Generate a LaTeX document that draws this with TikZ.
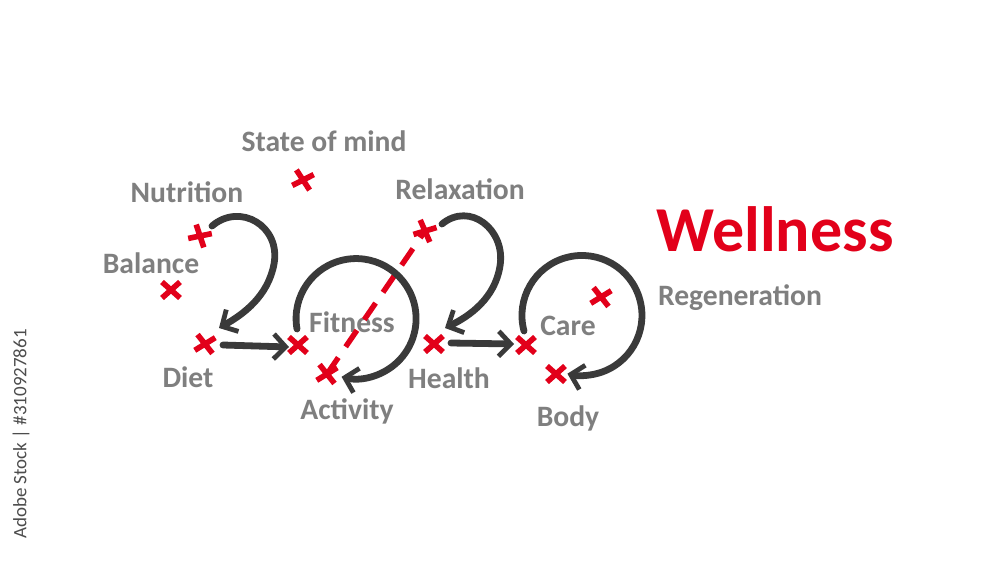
\documentclass[tikz,border=0pt]{standalone}
\usepackage{fontspec}
\setmainfont{Carlito}
\usetikzlibrary{arrows.meta}
\definecolor{lblgray}{HTML}{7F7F7F}
\definecolor{xred}{HTML}{E2001A}
\definecolor{arcgray}{HTML}{3A3A3A}
\definecolor{wmgray}{HTML}{4D4D4D}
\begin{document}
\begin{tikzpicture}[x=0.5pt,y=-0.5pt,
  lbl/.style={text=lblgray,font=\bfseries\fontsize{14.8}{16}\selectfont,inner sep=0pt},
  arcline/.style={draw=arcgray,line width=3.4pt,line cap=round,
    -{Straight Barb[length=6pt,width=12.5pt,line width=2.4pt]}},
  reddash/.style={draw=xred,line width=2.7pt,dash pattern=on 10pt off 6.5pt},
  xmark/.pic={\draw[xred,line width=2.8pt] (-9,-8)--(9,8) (-9,8)--(9,-8);}
]
\useasboundingbox[fill=white] (0,0) rectangle (1000,562);

% watermark text
\node[rotate=90,text=wmgray,font=\fontsize{9.5}{11}\selectfont,inner sep=0pt] (wm) at (21,434) {Adobe Stock | \#310927861};

% labels
\node[lbl] (tState) at (324,141) {State of mind};
\node[lbl] (tNutr) at (187,192) {Nutrition};
\node[lbl] (tBal) at (151,263) {Balance};
\node[lbl] (tDiet) at (188,377) {Diet};
\node[lbl] (tFit) at (352,322) {Fitness};
\node[lbl] (tAct) at (347,411) {Activity};
\node[lbl] (tRel) at (460,189) {Relaxation};
\node[lbl] (tHealth) at (449,378) {Health};
\node[lbl] (tCare) at (568,326) {Care};
\node[lbl] (tBody) at (568,418) {Body};
\node[lbl] (tRegen) at (740,298) {Regeneration};
\node[text=xred,font=\bfseries\fontsize{32}{36}\selectfont,inner sep=0pt] (tWell) at (775,229) {Wellness};

% cross positions
\coordinate (cState) at (303,180);
\coordinate (cNutr) at (200,236);
\coordinate (cBal) at (171,290);
\coordinate (cDiet) at (205,344);
\coordinate (cFit) at (298,345);
\coordinate (cAct) at (327,374);
\coordinate (cRel) at (425,231);
\coordinate (cHealth) at (434,344);
\coordinate (cCare) at (526,345);
\coordinate (cBody) at (556,374);
\coordinate (cRegen) at (601,297);

% arrow end points
\coordinate (aS1) at (212,226);
\coordinate (aE1) at (219,328);
\coordinate (bS1) at (223,345);
\coordinate (bE1) at (289,347);
\coordinate (oS1) at (297,329);
\coordinate (aS2) at (442,224);
\coordinate (aE2) at (445,328);
\coordinate (bS2) at (451,343);
\coordinate (bE2) at (514,344);
\coordinate (oS2) at (524,331);

% red dashed line
\draw[reddash] (cAct) -- (cRel);

% first "2"
\draw[arcline] (aS1) .. controls (240,202) and (281,226) .. (274,264)
  .. controls (268,296) and (244,314) .. (aE1);
\draw[arcline] (bS1) -- (bE1);
% first "0"
\draw[arcline] (oS1) arc[start angle=-190,end angle=104,radius=60];

% second "2"
\draw[arcline] (aS2) .. controls (470,201) and (506,230) .. (500,266)
  .. controls (495,298) and (470,316) .. (aE2);
\draw[arcline] (bS2) -- (bE2);
% second "0"
\draw[arcline] (oS2) arc[start angle=-195,end angle=104,radius=60];

% crosses
\pic[rotate=-15] at (cState) {xmark};
\pic[rotate=-30] at (cNutr) {xmark};
\pic at (cBal) {xmark};
\pic[rotate=-10] at (cDiet) {xmark};
\pic at (cFit) {xmark};
\pic[rotate=-10] at (cAct) {xmark};
\pic[rotate=-25] at (cRel) {xmark};
\pic at (cHealth) {xmark};
\pic at (cCare) {xmark};
\pic at (cBody) {xmark};
\pic[rotate=-10] at (cRegen) {xmark};
\end{tikzpicture}
\end{document}
